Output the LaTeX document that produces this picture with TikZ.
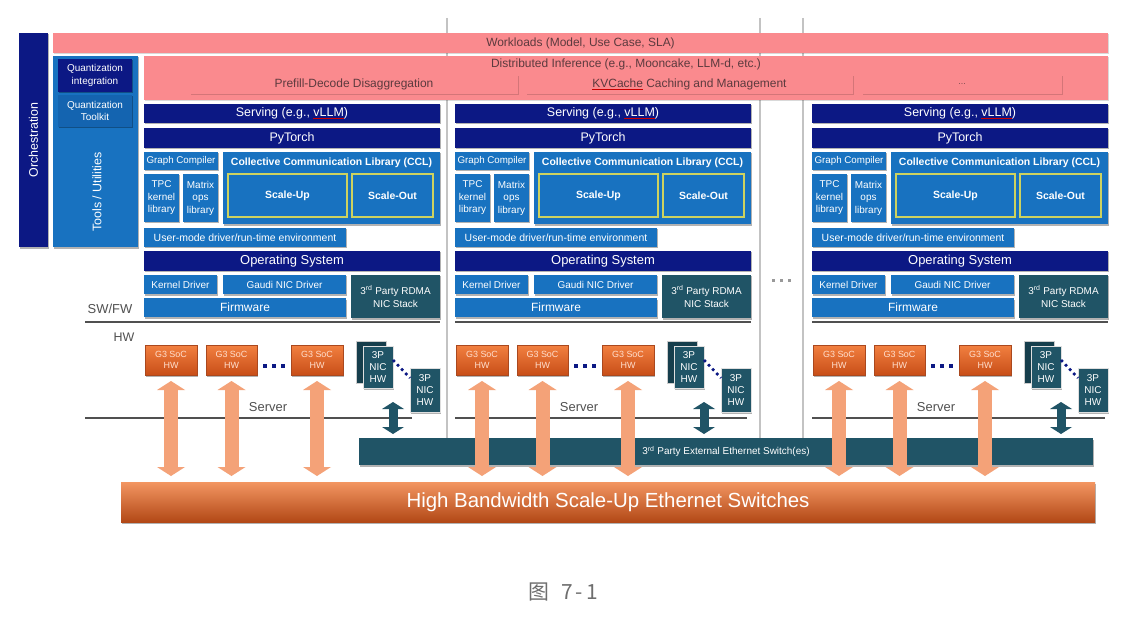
\documentclass[tikz,border=0pt]{standalone}
\usepackage{fontspec}
\setmainfont{Liberation Sans}
\newfontfamily\cjk{Noto Sans CJK SC}
\usetikzlibrary{arrows.meta,calc,shadows}
\definecolor{navyc}{RGB}{12,24,132}
\definecolor{bluec}{RGB}{24,114,192}
\definecolor{bluedk}{RGB}{20,100,176}
\definecolor{pinkc}{RGB}{250,138,142}
\definecolor{pinktxt}{RGB}{92,58,62}
\definecolor{tealc}{RGB}{32,84,102}
\definecolor{tealdk}{RGB}{22,62,76}
\definecolor{salmonc}{RGB}{244,162,120}
\definecolor{orgtop}{RGB}{242,128,64}
\definecolor{orgbot}{RGB}{200,78,24}
\definecolor{orgdraw}{RGB}{170,72,30}
\definecolor{hbstop}{RGB}{243,150,98}
\definecolor{hbsmid}{RGB}{232,100,34}
\definecolor{hbsbot}{RGB}{178,72,22}
\definecolor{ygreen}{RGB}{205,210,95}
\definecolor{linec}{RGB}{80,80,80}
\definecolor{sepc}{RGB}{195,195,195}
\definecolor{txtgray}{RGB}{80,80,80}
\definecolor{capgray}{RGB}{110,110,110}
\newcommand\fs[1]{\fontsize{#1}{#1}\selectfont}
\newcommand\fsb[2]{\fontsize{#1}{#2}\selectfont}
\newcommand\squig[2]{{\color{red!80!black}\underline{\color{#1}#2}}}
\newcommand\mybox[7]{\node[#2, minimum width=#5bp, minimum height=#6bp] (#1) at (#3,#4) {#7};}
\tikzset{
  sh/.style={drop shadow={shadow xshift=1.2bp, shadow yshift=-1.5bp, opacity=0.3, fill=black}},
  shl/.style={drop shadow={shadow xshift=1.2bp, shadow yshift=-1.5bp, opacity=0.15, fill=black}},
  blk/.style={anchor=north west, inner sep=0pt, outer sep=0pt, align=center, text=white, font=\fs{10}},
  navybox/.style={blk, fill=navyc, font=\fs{12.5}, sh},
  bluebox/.style={blk, fill=bluec, sh},
  innerbox/.style={blk, fill=bluec, draw=ygreen, line width=1.2bp, font=\bfseries\fs{10.5}},
  tealbox/.style={blk, fill=tealc, sh},
  pinkbox/.style={blk, fill=pinkc, text=pinktxt, font=\fs{12}, shl},
  socbox/.style={blk, top color=orgtop, bottom color=orgbot, draw=orgdraw, line width=0.6bp,
     text={rgb,255:red,255;green,222;blue,205}, font=\fsb{9}{11}, sh},
  nicbox/.style={blk, fill=tealc, draw=white!75!gray, line width=1bp, font=\fsb{10}{12}, sh},
  nicback/.style={blk, fill=tealdk, draw=white!60!gray, line width=0.8bp},
  sepline/.style={draw=linec, line width=2bp},
  vsep/.style={draw=sepc, line width=1.3bp},
  fat/.style={draw=salmonc, line width=14bp,
     {Triangle[width=28bp,length=9bp,line width=0pt]}-{Triangle[width=28bp,length=9bp,line width=0pt]}},
  tarrow/.style={draw=tealc, line width=9bp,
     {Triangle[width=22bp,length=7bp,line width=0pt]}-{Triangle[width=22bp,length=7bp,line width=0pt]}},
  graytxt/.style={text=txtgray, inner sep=0pt}
}
\begin{document}
\begin{tikzpicture}[x=1bp,y=-1bp]
\useasboundingbox (0,0) rectangle (1143,629);
\fill[white] (0,0) rectangle (1143,629);

% vertical separators
\draw[vsep] (447,18) -- (447,465);
\draw[vsep] (760,18) -- (760,438);
\draw[vsep] (803,18) -- (803,438);

% left side
\mybox{orch}{navybox}{19}{33}{29}{214}{}
\node[rotate=90, font=\fs{12.5}, text=white] (orchtxt) at (orch.center) {Orchestration};
\mybox{tools}{bluebox}{53}{56}{85}{191}{}
\node[rotate=90, font=\fs{12.5}, text=white] (toolstxt) at (97,192) {Tools / Utilities};
\mybox{qi}{navybox,font=\fsb{10}{12.5}}{58}{59}{74}{33}{Quantization\\integration}
\mybox{qt}{bluebox,fill=bluedk,font=\fsb{10}{12.5}}{58}{95}{74}{32}{Quantization\\Toolkit}

% pink layers
\mybox{wl}{pinkbox}{53}{33}{1055}{20}{Workloads (Model, Use Case, SLA)}
\mybox{di}{pinkbox}{144}{56}{964}{44}{}
\node[font=\fs{12}, text=pinktxt] (ditxt) at (626,64) {Distributed Inference (e.g., Mooncake, LLM-d, etc.)};
\mybox{pd}{pinkbox}{190}{75}{328}{19}{Prefill-Decode Disaggregation}
\mybox{kv}{pinkbox}{526}{75}{327}{19}{\squig{pinktxt}{KVCache} Caching and Management}
\mybox{el}{pinkbox,font=\fs{8}}{862}{75}{200}{19}{\ldots}

% labels
\node[graytxt, font=\fs{13}] (swfw) at (110,309) {SW/FW};
\node[graytxt, font=\fs{12.5}] (hwl) at (124,337) {HW};

% switches
\mybox{sw3p}{tealbox,font=\fs{10}}{359}{438}{734}{27}{3\textsuperscript{rd} Party External Ethernet Switch(es)}
\mybox{hbs}{blk, top color=hbstop, middle color=hbsmid, bottom color=hbsbot, font=\fs{20.5}, sh}{121}{482}{974}{40}{High Bandwidth Scale-Up Ethernet Switches}

% dots between columns
\foreach \xx in {773,781,789} \fill[gray!80] (\xx-1.5,279.5) rectangle ++(3,3);

% columns
\foreach \ox/\k/\xs/\xe in {0/a/85/412, 311/b/455/747, 668/c/812/1105} {
  \mybox{serv\k}{navybox}{144+\ox}{104}{296}{19}{Serving (e.g., \squig{white}{vLLM})}
  \mybox{pyt\k}{navybox}{144+\ox}{128}{296}{20}{PyTorch}
  \mybox{gc\k}{bluebox,font=\fs{9.8}}{144+\ox}{152}{74}{18}{Graph Compiler}
  \mybox{tpc\k}{bluebox,font=\fsb{10}{12.5}}{144+\ox}{174}{35}{48}{TPC\\kernel\\library}
  \mybox{mat\k}{bluebox,font=\fsb{10}{12.5}}{183+\ox}{174}{35}{48}{Matrix\\ops\\library}
  \mybox{ccl\k}{bluebox}{223+\ox}{152}{217}{72}{}
  \node[font=\bfseries\fs{10.5}, text=white] (cclt\k) at ($(ccl\k.north)+(0,10.5)$) {Collective Communication Library (CCL)};
  \mybox{su\k}{innerbox}{228+\ox}{174}{119}{43}{Scale-Up}
  \mybox{so\k}{innerbox}{352+\ox}{174}{81}{43}{Scale-Out}
  \mybox{umd\k}{bluebox,font=\fs{10.5}}{144+\ox}{228}{202}{19}{User-mode driver/run-time environment}
  \mybox{os\k}{navybox,font=\fs{13}}{144+\ox}{251}{296}{20}{Operating System}
  \mybox{kd\k}{bluebox}{144+\ox}{275}{73}{19}{Kernel Driver}
  \mybox{gnd\k}{bluebox}{223+\ox}{275}{123}{19}{Gaudi NIC Driver}
  \mybox{fw\k}{bluebox,font=\fs{12}}{144+\ox}{298}{202}{19}{Firmware}
  \mybox{rdma\k}{tealbox,font=\fsb{10}{13}}{351+\ox}{275}{89}{43}{3\textsuperscript{rd} Party RDMA\\NIC Stack}
  \draw[sepline] (\xs,322) -- (440+\ox,322);
  % hardware
  \mybox{socA\k}{socbox}{145+\ox}{345}{52}{30}{G3 SoC\\HW}
  \mybox{socB\k}{socbox}{206+\ox}{345}{51}{30}{G3 SoC\\HW}
  \mybox{socC\k}{socbox}{291+\ox}{345}{52}{30}{G3 SoC\\HW}
  \foreach \xx in {265,274,283} \fill[navyc] (\xx+\ox-2,364) rectangle ++(4,4);
  \mybox{nicK\k}{nicback}{356+\ox}{341}{30}{42}{}
  \mybox{nicA\k}{nicbox}{363+\ox}{346}{30}{42}{3P\\NIC\\HW}
  \mybox{nicB\k}{nicbox}{410+\ox}{368}{30}{44}{3P\\NIC\\HW}
  \draw[navyc, line width=2.6bp, dash pattern=on 2.6bp off 3.4bp] ($(nicA\k.east)+(0,-7)$) -- ($(nicB\k.west)+(0,-12)$);
  \node[graytxt, font=\fs{13}] (srv\k) at (268+\ox,407) {Server};
  \draw[sepline] (\xs,418) -- (\xe,418);
  \draw[tarrow] ($(nicA\k.south east)+(0,14)$) -- ($(nicA\k.south east |- sw3p.north)+(0,-4)$);
  \foreach \s in {socA,socB,socC}
    \draw[fat] ($(\s\k.south)+(0,6)$) -- ($(\s\k.south |- hbs.north)+(0,-6)$);
}

% caption
\node[font=\cjk\fs{21}, text=capgray] (cap) at (563,592) {图\hspace{12bp}7\hspace{3bp}-\hspace{3bp}1};
\end{tikzpicture}
\end{document}
